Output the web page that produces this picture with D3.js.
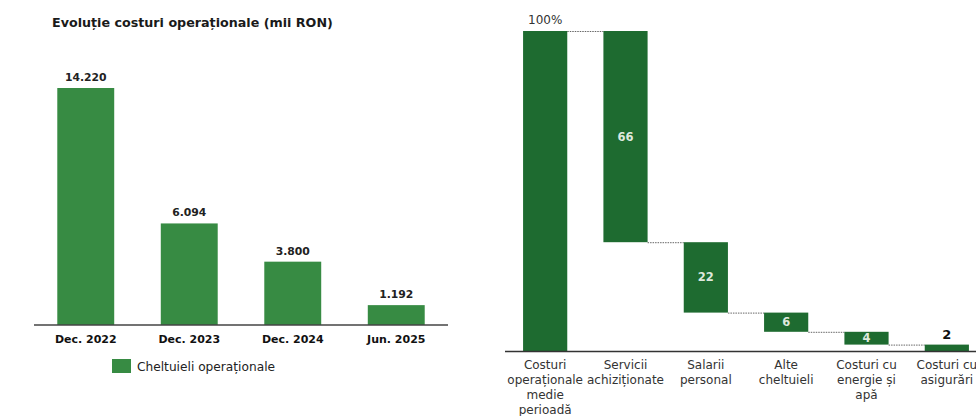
<!DOCTYPE html>
<html>
<head>
<meta charset="utf-8">
<script src="https://cdn.jsdelivr.net/npm/d3@7"></script>
<style>
  html, body { margin: 0; padding: 0; background: #fff; }
  svg { display: block; }
  text { font-family: "DejaVu Sans", Verdana, sans-serif; }
</style>
</head>
<body>
<svg id="chart" width="976" height="416"></svg>
<script>
// Left panel: yearly operating costs (thousand RON)
const periods = ["Dec. 2022", "Dec. 2023", "Dec. 2024", "Jun. 2025"];
const costs = [14220, 6094, 3800, 1192];
const costSeries = "Cheltuieli operaționale";
const leftTitle = "Evoluție costuri operaționale (mii RON)";

// Right panel: breakdown of average operating costs (%)
const categories = [
  "Costuri\noperaționale\nmedie\nperioadă",
  "Servicii\nachiziționate",
  "Salarii\npersonal",
  "Alte\ncheltuieli",
  "Costuri cu\nenergie și\napă",
  "Costuri cu\nasigurări"
];
const shares = [100, 66, 22, 6, 4, 2];

const FONT = "'DejaVu Sans', Verdana, sans-serif";
const svg = d3.select("#chart");
const roFormat = d3.formatLocale({ decimal: ",", thousands: ".", grouping: [3], currency: ["", " RON"] }).format(",d");

// ---------- left: simple bar chart ----------
const L = { x0: 34, x1: 448, base: 325, top: 88 };
const xL = d3.scaleBand().domain(periods).range([L.x0, L.x1]).paddingInner(0.45).paddingOuter(0.225);
const yL = d3.scaleLinear().domain([0, d3.max(costs)]).range([L.base, L.top]);
const green = "#378b43";

svg.append("text")
  .attr("x", 52).attr("y", 27)
  .attr("font-size", 12.7).attr("font-weight", 700).attr("fill", "#1a1a1a")
  .text(leftTitle);

const gL = svg.append("g");
gL.selectAll("rect").data(periods).join("rect")
  .attr("x", d => xL(d)).attr("width", xL.bandwidth())
  .attr("y", (d, i) => yL(costs[i]))
  .attr("height", (d, i) => yL(0) - yL(costs[i]))
  .attr("fill", green);

gL.selectAll("text.val").data(periods).join("text")
  .attr("class", "val")
  .attr("x", d => xL(d) + xL.bandwidth() / 2)
  .attr("y", (d, i) => yL(costs[i]) - 7)
  .attr("text-anchor", "middle")
  .attr("font-size", 10.8).attr("font-weight", 700).attr("fill", "#222")
  .text((d, i) => roFormat(costs[i]));

const axL = svg.append("g").attr("transform", `translate(0,${L.base})`)
  .call(d3.axisBottom(xL).tickSize(0).tickPadding(10));
axL.select(".domain").attr("stroke", "#444").attr("stroke-width", 1.5).attr("d", `M${L.x0},0H${L.x1}`);
axL.selectAll("text").attr("font-size", 11).attr("font-weight", 700).attr("fill", "#111")
  .attr("font-family", FONT);

const legL = svg.append("g").attr("transform", "translate(112,359)");
legL.append("rect").attr("width", 19).attr("height", 14).attr("fill", green);
legL.append("text").attr("x", 25).attr("y", 11.5)
  .attr("font-size", 12.2).attr("fill", "#222")
  .text(costSeries);

// ---------- right: waterfall ----------
const R = { x0: 505, x1: 987, base: 351, top: 31 };
const xR = d3.scaleBand().domain(categories).range([R.x0, R.x1]).paddingInner(0.45).paddingOuter(0.225);
const yR = d3.scaleLinear().domain([0, shares[0]]).range([R.base, R.top]);
const dark = "#1e6b30";

// running levels: first bar is the total, the rest step down from it
let level = shares[0];
const steps = shares.map((v, i) => {
  if (i === 0) return { cat: categories[i], v, lo: 0, hi: v };
  const s = { cat: categories[i], v, lo: level - v, hi: level };
  level -= v;
  return s;
});

const gR = svg.append("g");

// dotted connectors between consecutive bars
const connectors = steps.slice(0, -1).map((s, i) => ({
  x1: xR(s.cat) + xR.bandwidth(),
  x2: xR(steps[i + 1].cat),
  lvl: i === 0 ? s.hi : s.lo
}));
gR.selectAll("line.conn").data(connectors).join("line")
  .attr("class", "conn")
  .attr("x1", d => d.x1).attr("x2", d => d.x2)
  .attr("y1", d => yR(d.lvl) + 0.5).attr("y2", d => yR(d.lvl) + 0.5)
  .attr("stroke", "#666").attr("stroke-width", 1).attr("stroke-dasharray", "1.5,1");

gR.selectAll("rect").data(steps).join("rect")
  .attr("x", d => xR(d.cat)).attr("width", xR.bandwidth())
  .attr("y", d => yR(d.hi)).attr("height", d => yR(d.lo) - yR(d.hi))
  .attr("fill", dark);

const small = d => yR(d.lo) - yR(d.hi) < 12;
gR.selectAll("text.val").data(steps).join("text")
  .attr("class", "val")
  .attr("x", d => xR(d.cat) + xR.bandwidth() / 2)
  .attr("y", (d, i) => {
    if (i === 0) return yR(d.hi) - 7;
    if (small(d)) return yR(d.hi) - 6;
    return (yR(d.lo) + yR(d.hi)) / 2 + 4;
  })
  .attr("text-anchor", "middle")
  .attr("font-size", (d, i) => i === 0 ? 12 : (small(d) ? 13 : 11.5))
  .attr("font-weight", (d, i) => i === 0 ? 400 : 700)
  .attr("fill", (d, i) => i === 0 ? "#333" : (small(d) ? "#111" : "#dde8dd"))
  .text((d, i) => i === 0 ? d.v + "%" : d.v);

svg.append("line")
  .attr("x1", R.x0).attr("x2", 976)
  .attr("y1", R.base + 0.5).attr("y2", R.base + 0.5)
  .attr("stroke", "#333").attr("stroke-width", 1.5);

const labR = svg.append("g");
labR.selectAll("text").data(categories).join("text")
  .attr("x", d => xR(d) + xR.bandwidth() / 2)
  .attr("y", R.base + 18)
  .attr("text-anchor", "middle")
  .attr("font-size", 12).attr("fill", "#333")
  .each(function (d) {
    const t = d3.select(this);
    d.split("\n").forEach((line, j) => {
      t.append("tspan")
        .attr("x", xR(d) + xR.bandwidth() / 2)
        .attr("dy", j === 0 ? 0 : 15)
        .text(line);
    });
  });
</script>
</body>
</html>
